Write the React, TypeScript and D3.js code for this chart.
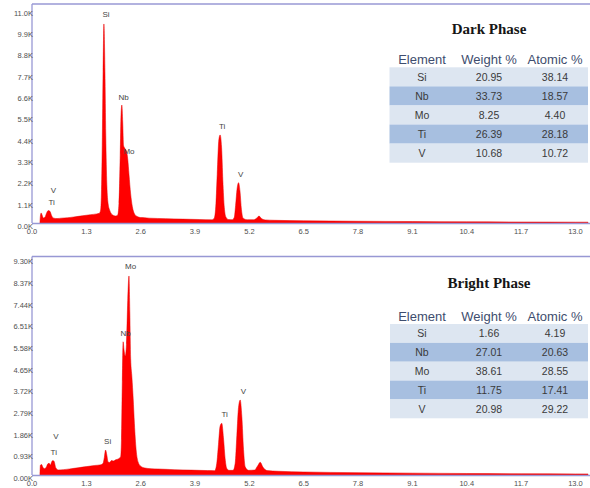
import React from "react";
import * as d3 from "d3";

// EDS spectra: [keV, counts]
const darkSpectrum: [number, number][] = [
  [0.19, 0], [0.2, 350], [0.22, 520], [0.24, 420], [0.27, 260], [0.31, 300], [0.35, 520],
  [0.39, 640], [0.43, 600], [0.47, 380], [0.52, 250], [0.6, 230], [0.7, 250], [0.85, 270],
  [1.0, 310], [1.2, 370], [1.4, 430], [1.55, 470], [1.61, 500], [1.64, 650], [1.66, 1500],
  [1.68, 4000], [1.7, 7800], [1.72, 10260], [1.745, 7800], [1.765, 4500], [1.79, 2000],
  [1.82, 1000], [1.86, 650], [1.92, 430], [2.0, 360], [2.05, 400], [2.08, 1000], [2.11, 3500],
  [2.13, 5600], [2.15, 6080], [2.17, 5200], [2.19, 4000], [2.22, 3850], [2.26, 3700],
  [2.29, 3300], [2.32, 2500], [2.36, 1500], [2.4, 850], [2.45, 480], [2.52, 330], [2.6, 280],
  [2.7, 270], [2.8, 250], [3.2, 225], [3.6, 200], [4.0, 180], [4.3, 165], [4.36, 250],
  [4.4, 1000], [4.43, 2500], [4.47, 4300], [4.5, 4540], [4.535, 3900], [4.565, 2200],
  [4.6, 800], [4.64, 300], [4.7, 180], [4.79, 170], [4.84, 300], [4.87, 900], [4.905, 1750],
  [4.94, 2080], [4.975, 1650], [5.01, 700], [5.05, 250], [5.15, 170], [5.3, 170], [5.38, 260],
  [5.43, 360], [5.48, 250], [5.58, 160], [5.8, 140], [6.5, 115], [7.8, 90], [9.1, 75],
  [10.4, 62], [11.7, 52], [13.0, 45], [13.3, 44],
];

const brightSpectrum: [number, number][] = [
  [0.19, 0], [0.2, 420], [0.23, 450], [0.26, 330], [0.3, 270], [0.34, 330], [0.38, 480],
  [0.41, 500], [0.44, 430], [0.47, 560], [0.5, 620], [0.53, 580], [0.57, 300], [0.63, 220],
  [0.75, 230], [0.9, 260], [1.1, 310], [1.3, 360], [1.5, 410], [1.65, 440], [1.7, 500],
  [1.73, 750], [1.76, 1070], [1.79, 850], [1.82, 560], [1.86, 540], [1.9, 620], [1.95, 600],
  [2.0, 650], [2.05, 680], [2.09, 720], [2.12, 780], [2.14, 1500], [2.16, 4000], [2.18, 5720],
  [2.2, 5400], [2.23, 5100], [2.26, 5600], [2.29, 7500], [2.32, 8545], [2.34, 7000],
  [2.36, 5000], [2.39, 4200], [2.42, 3300], [2.45, 2200], [2.49, 1100], [2.54, 550],
  [2.6, 380], [2.7, 300], [2.85, 270], [3.0, 260], [3.4, 230], [3.8, 210], [4.2, 190],
  [4.37, 185], [4.42, 500], [4.46, 1300], [4.5, 2100], [4.54, 2220], [4.58, 1600],
  [4.62, 700], [4.66, 280], [4.72, 200], [4.81, 200], [4.86, 500], [4.9, 1700], [4.94, 2900],
  [4.98, 3220], [5.02, 2500], [5.06, 1100], [5.1, 350], [5.18, 200], [5.32, 210], [5.4, 400],
  [5.46, 545], [5.52, 350], [5.62, 190], [5.9, 160], [6.5, 130], [7.8, 100], [9.1, 80],
  [10.4, 65], [11.7, 55], [13.0, 48], [13.3, 46],
];

// peak annotations: [name, keV, counts]
const darkPeaks: [string, number, number][] = [
  ["Si", 1.77, 10620], ["Nb", 2.19, 6340], ["Mo", 2.32, 3560], ["Ti", 4.55, 4850],
  ["V", 4.99, 2390], ["V", 0.51, 1550], ["Ti", 0.47, 940],
];
const brightPeaks: [string, number, number][] = [
  ["Mo", 2.36, 8830], ["Nb", 2.24, 5970], ["Si", 1.81, 1330], ["Ti", 4.61, 2480],
  ["V", 5.06, 3480], ["V", 0.57, 1530], ["Ti", 0.52, 860],
];

const xTicks = [0, 1.3, 2.6, 3.9, 5.2, 6.5, 7.8, 9.1, 10.4, 11.7, 13.0];
const darkYTicks = [0, 1100, 2200, 3300, 4400, 5500, 6600, 7700, 8800, 9900, 11000];
const brightYTicks = [0, 930, 1860, 2790, 3720, 4650, 5580, 6510, 7440, 8370, 9300];

const headers = ["Element", "Weight %", "Atomic %"];
const elements = ["Si", "Nb", "Mo", "Ti", "V"];
const darkWeight = ["20.95", "33.73", "8.25", "26.39", "10.68"];
const darkAtomic = ["38.14", "18.57", "4.40", "28.18", "10.72"];
const brightWeight = ["1.66", "27.01", "38.61", "11.75", "20.98"];
const brightAtomic = ["4.19", "20.63", "28.55", "17.41", "29.22"];

const AXIS = "#9898d4";
const SANS = "'Liberation Sans', Arial, sans-serif";
const colX = [422, 489, 555];

function Panel({ id, spectrum, peaks, yTicks, yFmt, yRange, frameTop, title, titleY, weight, atomic, rowTop, rowH, tableLeft }: any) {
  const x = d3.scaleLinear().domain([0, 13.3]).range([32, 588]);
  const y = d3.scaleLinear().domain([0, yTicks[yTicks.length - 1]]).range(yRange);
  const base = yRange[0];
  const area = d3
    .area<[number, number]>()
    .x((d) => x(d[0]))
    .y0(base)
    .y1((d) => y(d[1]))
    .curve(d3.curveMonotoneX);
  const fmt = d3.format(yFmt);

  return (
    <g>
      <defs>
        <clipPath id={id}>
          <rect x={32} y={frameTop} width={560} height={base - frameTop} />
        </clipPath>
      </defs>
      <path d={area(spectrum) || ""} fill="#ff0000" stroke="#e60000" strokeWidth={0.5} clipPath={`url(#${id})`} />
      {/* frame: top, left, bottom */}
      <line x1={32} x2={590} y1={frameTop} y2={frameTop} stroke={AXIS} strokeWidth={1.3} />
      <line x1={32} x2={32} y1={frameTop} y2={base} stroke={AXIS} strokeWidth={1.3} />
      <line x1={32} x2={590} y1={base + 0.5} y2={base + 0.5} stroke={AXIS} strokeWidth={1.3} />

      {yTicks.map((t: number) => (
        <text key={t} x={33} y={y(t) + 6} textAnchor="end" fontSize={7.5} fill="#505050" fontFamily={SANS}>
          {fmt(t / 1000)}K
        </text>
      ))}
      {xTicks.map((t) => (
        <text key={t} x={x(t)} y={base + 11} textAnchor="middle" fontSize={7.5} fill="#505050" fontFamily={SANS}>
          {t.toFixed(1)}
        </text>
      ))}
      {peaks.map((p: [string, number, number], i: number) => (
        <text key={i} x={x(p[1])} y={y(p[2])} textAnchor="middle" fontSize={8} fill="#444" fontFamily={SANS}>
          {p[0]}
        </text>
      ))}

      {/* composition table */}
      <text x={489} y={titleY} textAnchor="middle" fontSize={15} fontWeight="bold" fill="#151515"
        fontFamily="'Liberation Serif', 'Times New Roman', serif">
        {title}
      </text>
      {headers.map((h, i) => (
        <text key={h} x={colX[i]} y={rowTop - 3} textAnchor="middle" fontSize={13} fill="#3e4d6e" fontFamily={SANS}>
          {h}
        </text>
      ))}
      {elements.map((el, i) => (
        <g key={el}>
          <rect x={tableLeft} y={rowTop + i * rowH} width={588 - tableLeft} height={rowH}
            fill={i % 2 === 0 ? "#dde6f1" : "#a7bfe0"} />
          {[el, weight[i], atomic[i]].map((v, j) => (
            <text key={j} x={colX[j]} y={rowTop + i * rowH + rowH / 2 + 3.7} textAnchor="middle"
              fontSize={10.5} fill="#3a3a3a" fontFamily={SANS}>
              {v}
            </text>
          ))}
        </g>
      ))}
    </g>
  );
}

export default function App() {
  return (
    <div style={{ position: "absolute", left: 0, top: 0 }}>
      <svg width={590} height={488} style={{ display: "block", background: "#fff" }}>
        <Panel id="clipDark" spectrum={darkSpectrum} peaks={darkPeaks} yTicks={darkYTicks} yFmt=".1f"
          yRange={[223, 9.6]} frameTop={4} title="Dark Phase" titleY={34}
          weight={darkWeight} atomic={darkAtomic} rowTop={67.3} rowH={19.08} tableLeft={389.5} />
        <Panel id="clipBright" spectrum={brightSpectrum} peaks={brightPeaks} yTicks={brightYTicks} yFmt=".2f"
          yRange={[475, 258.4]} frameTop={256.5} title="Bright Phase" titleY={288}
          weight={brightWeight} atomic={brightAtomic} rowTop={324} rowH={18.86} tableLeft={390} />
      </svg>
    </div>
  );
}
